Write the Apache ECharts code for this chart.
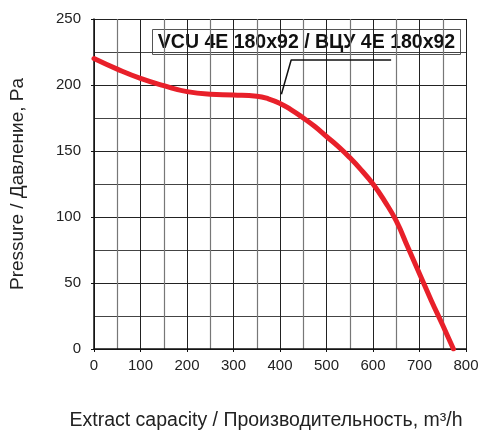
<!DOCTYPE html>
<html><head><meta charset="utf-8">
<script src="https://cdn.jsdelivr.net/npm/echarts@6/dist/echarts.min.js"></script>
<style>html,body{margin:0;padding:0;background:#fff}#c{width:484px;height:436px}</style>
</head><body><div id="c"></div>
<script>
const flow = [0, 50, 100, 150, 200, 250, 300, 350, 375, 400, 425, 450, 475, 500, 525, 550, 575, 600, 625, 650, 675, 700, 725, 750, 773];
const pressure = [220, 212, 205, 199.5, 195, 193, 192.5, 191.5, 189.5, 186, 181, 175, 168.5, 161, 153.5, 145, 135.5, 125, 112, 97, 77, 57, 37, 18, 0];
const leaderX = [403, 424, 639];
const leaderY = [193, 219, 219];
const xTicks = [0, 100, 200, 300, 400, 500, 600, 700, 800];
const yTicks = [0, 50, 100, 150, 200, 250];
const title = 'VCU 4E 180x92 / ВЦУ 4E 180x92';

const chart = echarts.init(document.getElementById('c'), null, {renderer: 'canvas'});
chart.setOption({
  animation: false,
  grid: {left: 93, right: 18, top: 19, bottom: 85},
  xAxis: {
    type: 'value', min: xTicks[0], max: xTicks[xTicks.length-1], interval: 100,
    name: 'Extract capacity / Производительность, m³/h',
    nameLocation: 'middle', nameGap: 62,
    nameTextStyle: {fontFamily: 'Liberation Sans', fontSize: 19.5, color: '#222', padding: [0, 28, 0, 0]},
    axisLine: {lineStyle: {color: '#111', width: 1.5}},
    axisTick: {show: true, length: 3, lineStyle: {color: '#111'}},
    axisLabel: {fontFamily: 'Liberation Sans', fontSize: 15, color: '#222', margin: 9},
    splitLine: {lineStyle: {color: '#222', width: 1}},
    minorTick: {show: false, splitNumber: 2},
    minorSplitLine: {show: true, lineStyle: {color: '#777', width: 1.2}}
  },
  yAxis: {
    type: 'value', min: yTicks[0], max: yTicks[yTicks.length-1], interval: 50,
    name: 'Pressure / Давление, Pa',
    nameLocation: 'middle', nameGap: 67,
    nameTextStyle: {fontFamily: 'Liberation Sans', fontSize: 19, color: '#222'},
    axisLine: {show: true, lineStyle: {color: '#111', width: 1.5}},
    axisTick: {show: true, length: 3, lineStyle: {color: '#111'}},
    axisLabel: {fontFamily: 'Liberation Sans', fontSize: 15, color: '#222', margin: 13},
    splitLine: {lineStyle: {color: '#222', width: 1}},
    minorTick: {show: false, splitNumber: 2},
    minorSplitLine: {show: true, lineStyle: {color: '#444', width: 1}}
  },
  series: [
    {
      type: 'line', data: flow.map((x, i) => [x, pressure[i]]),
      smooth: 0.5, symbol: 'none',
      lineStyle: {color: '#e8202a', width: 5, cap: 'round', join: 'round'}
    },
    {
      type: 'line', data: leaderX.map((x, i) => [x, leaderY[i]]),
      symbol: 'none', lineStyle: {color: '#111', width: 1.5}
    }
  ],
  graphic: [{
    type: 'group', left: 152, top: 29,
    children: [
      {type: 'rect', shape: {x: 0, y: 0, width: 308, height: 25}, style: {fill: '#fff', stroke: '#555', lineWidth: 1}},
      {type: 'text', x: 154, y: 13, style: {text: title, font: 'bold 19.5px "Liberation Sans"', fill: '#111', align: 'center', verticalAlign: 'middle'}}
    ]
  }]
});
</script></body></html>
